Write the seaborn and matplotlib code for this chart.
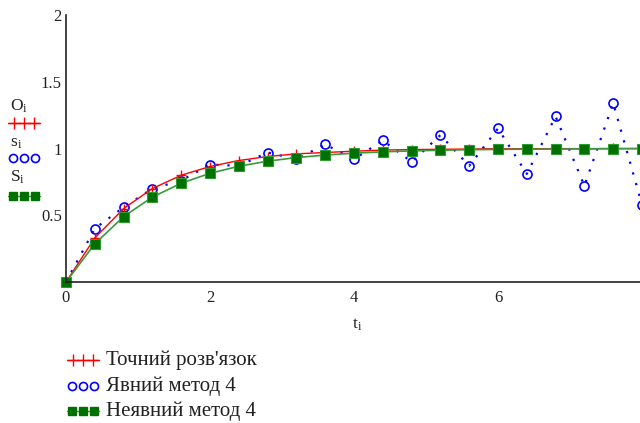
import numpy as np
import pandas as pd
import matplotlib
matplotlib.use("Agg")
import matplotlib.pyplot as plt
from matplotlib.lines import Line2D
import seaborn as sns

t = [0.0, 0.4, 0.8, 1.2, 1.6, 2.0, 2.4, 2.8, 3.2, 3.6, 4.0,
     4.4, 4.8, 5.2, 5.6, 6.0, 6.4, 6.8, 7.2, 7.6, 8.0]
exact = [0.0, 0.33, 0.55, 0.70, 0.80, 0.865, 0.91, 0.94, 0.96, 0.97, 0.98,
         0.988, 0.992, 0.994, 0.996, 0.998, 0.998, 0.999, 0.999, 1.0, 1.0]
explicit = [0.0, 0.40, 0.56, 0.70, 0.76, 0.88, 0.87, 0.97, 0.92, 1.03, 0.92,
            1.06, 0.90, 1.10, 0.87, 1.15, 0.81, 1.24, 0.72, 1.34, 0.58]
implicit = [0.0, 0.286, 0.49, 0.636, 0.74, 0.814, 0.867, 0.905, 0.932, 0.951, 0.965,
            0.975, 0.982, 0.987, 0.991, 0.993, 0.995, 0.996, 0.997, 0.998, 0.999]
xticks = [0, 2, 4, 6]
yticks = [0.5, 1, 1.5, 2]
yticklabels = ["0.5", "1", "1.5", "2"]
legend_labels = ["Точний розв'язок", "Явний метод 4", "Неявний метод 4"]
axis_labels = ["O", "s", "S"]

sns.set_theme(style="white")
plt.rcParams["font.family"] = ["Liberation Serif", "DejaVu Serif"]
plt.rcParams["mathtext.fontset"] = "stix"

W, H = 640, 423
fig = plt.figure(figsize=(W / 100, H / 100), dpi=100)
ax = fig.add_axes([66 / W, (H - 282) / H, (640 - 66) / W, (282 - 15) / H])

df = pd.DataFrame({"t": t, "exact": exact, "explicit": explicit, "implicit": implicit})

red = "#ff0000"
blue = "#0000ff"
green_line = "#3a9a3a"
green_fill = "#007000"

sns.lineplot(data=df, x="t", y="explicit", ax=ax, color=blue, linestyle=(0, (1, 4)),
             linewidth=1.6, marker="o", markersize=6.5, markerfacecolor="none",
             markeredgecolor=blue, markeredgewidth=1.2, clip_on=False, legend=False)
sns.lineplot(data=df, x="t", y="exact", ax=ax, color=red, linewidth=1.0,
             marker="+", markersize=7, markeredgewidth=1.0, markeredgecolor=red,
             clip_on=False, legend=False)
sns.lineplot(data=df, x="t", y="implicit", ax=ax, color=green_line, linewidth=1.2,
             marker="s", markersize=7, markerfacecolor=green_fill,
             markeredgecolor="#2f9a2f", markeredgewidth=0.8, clip_on=False, legend=False)

ax.set_xlim(0, (640 - 66) / 72)
ax.set_ylim(0, 2)
ax.set_xticks(xticks)
ax.set_xticklabels([str(v) for v in xticks])
ax.set_yticks(yticks)
ax.set_yticklabels(yticklabels)
for s in ["top", "right"]:
    ax.spines[s].set_visible(False)
for s in ["left", "bottom"]:
    ax.spines[s].set_color("#222222")
    ax.spines[s].set_linewidth(1.2)
ax.tick_params(axis="both", direction="inout", length=8, width=1.0, color="#222222",
               labelsize=12, labelcolor="#222222", pad=2)
ax.tick_params(axis="y", pad=-1)
ax.set_xlabel("")
ax.set_ylabel("")
ax.set_facecolor("white")
ax.grid(False)

# x axis label
fig.text(357 / W, 1 - 325 / H, r"t$_\mathregular{i}$", ha="center", va="center", fontsize=12.5, color="#222222")

def fig_line(x0, x1, y, n, **kw):
    xs = np.linspace(x0, x1, n) / W
    ys = np.full(n, 1 - y / H)
    fig.add_artist(Line2D(xs, ys, transform=fig.transFigure, **kw))

def sample_set(x0, ys):
    # red: line with three crosses
    fig_line(x0, x0 + 32, ys[0], 2, color=red, lw=1.0)
    fig_line(x0 + 6, x0 + 26, ys[0], 3, color=red, lw=0, marker="+", markersize=8, markeredgewidth=1.0)
    # blue: three open circles
    fig_line(x0 + 5, x0 + 27, ys[1], 3, color=blue, lw=0, marker="o", markersize=5.8,
             markerfacecolor="none", markeredgewidth=1.2)
    # green: line with three filled squares
    fig_line(x0, x0 + 32, ys[2], 2, color=green_line, lw=1.0)
    fig_line(x0 + 5, x0 + 27, ys[2], 3, color=green_fill, lw=0, marker="s", markersize=6.0,
             markerfacecolor=green_fill, markeredgecolor=green_fill)

# y-axis stacked labels with line samples
ylab_y = [106, 143, 177]
for lab, yy in zip(axis_labels, ylab_y):
    fig.text(10 / W, 1 - yy / H, lab + r"$_\mathregular{i}$", ha="left", va="center", fontsize=12.5, color="#222222")
sample_set(8, [123, 158, 196])

# bottom legend
leg_y = [360, 386, 411]
sample_set(67, leg_y)
for lab, yy in zip(legend_labels, leg_y):
    fig.text(106 / W, 1 - yy / H, lab, ha="left", va="center", fontsize=15, color="#222222")

fig.savefig("out.png", dpi=100, facecolor="white")
